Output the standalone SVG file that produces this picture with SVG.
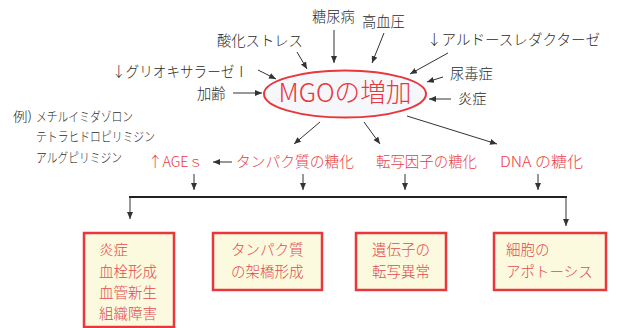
<svg xmlns="http://www.w3.org/2000/svg" width="617" height="328" viewBox="0 0 617 328">
<style>
text{font-weight:300}
.lbl{font-family:"Noto Sans CJK JP","Noto Sans",sans-serif;font-size:14.3px;fill:#2b2b2b}
.sm{font-family:"Noto Sans CJK JP","Noto Sans",sans-serif;font-size:13px;fill:#2b2b2b}
.red{font-family:"Noto Sans CJK JP","Noto Sans",sans-serif;font-size:14.5px;fill:#ec3b42}
.bt{font-family:"Noto Sans CJK JP","Noto Sans",sans-serif;font-size:14.5px;fill:#e24a4e}
.box{fill:#fbf9de;stroke:#e8383d;stroke-width:2.5}
.ar{stroke:#333;stroke-width:1;fill:none;marker-end:url(#ah)}
</style>
<defs>
<marker id="ah" markerUnits="userSpaceOnUse" markerWidth="8" markerHeight="7" refX="7" refY="3" orient="auto">
<path d="M0,0 L7,3 L0,6 z" fill="#333"/>
</marker>
</defs>
<g id="center">
<ellipse cx="345" cy="94" rx="81" ry="23.5" fill="#f6f7fb" stroke="#e8383d" stroke-width="2"/>
<text x="345" y="102" text-anchor="middle" font-family="'Noto Sans CJK JP','Noto Sans',sans-serif" font-size="26" fill="#e8383d" textLength="133" lengthAdjust="spacingAndGlyphs">MGOの増加</text>
</g>
<g id="causes">
<text class="lbl" x="312" y="22">糖尿病</text>
<text class="lbl" x="362" y="27">高血圧</text>
<text class="lbl" x="217" y="46">酸化ストレス</text>
<text class="lbl" x="112" y="77" textLength="136" lengthAdjust="spacingAndGlyphs">↓グリオキサラーゼⅠ</text>
<text class="lbl" x="197" y="99">加齢</text>
<text class="lbl" x="427" y="45" textLength="173" lengthAdjust="spacingAndGlyphs">↓アルドースレダクターゼ</text>
<text class="lbl" x="450" y="79">尿毒症</text>
<text class="lbl" x="458" y="104">炎症</text>
</g>
<g id="examples">
<text class="sm" x="13" y="121" textLength="19" lengthAdjust="spacingAndGlyphs">例)</text>
<text class="sm" x="36" y="121" textLength="97" lengthAdjust="spacingAndGlyphs">メチルイミダゾロン</text>
<text class="sm" x="36" y="141" textLength="119" lengthAdjust="spacingAndGlyphs">テトラヒドロピリミジン</text>
<text class="sm" x="36" y="162" textLength="86" lengthAdjust="spacingAndGlyphs">アルグピリミジン</text>
</g>
<g id="effects">
<text class="red" x="148" y="167" textLength="55" lengthAdjust="spacingAndGlyphs">↑AGEｓ</text>
<text class="red" x="236" y="167" textLength="118" lengthAdjust="spacingAndGlyphs">タンパク質の糖化</text>
<text class="red" x="376" y="167" textLength="101" lengthAdjust="spacingAndGlyphs">転写因子の糖化</text>
<text class="red" x="500" y="167" textLength="83" lengthAdjust="spacingAndGlyphs">DNA の糖化</text>
</g>
<g id="box1">
<rect class="box" x="84" y="233" width="90" height="94"/>
<text class="bt" x="99" y="255">炎症</text>
<text class="bt" x="99" y="277">血栓形成</text>
<text class="bt" x="99" y="298">血管新生</text>
<text class="bt" x="99" y="319">組織障害</text>
</g>
<g id="box2">
<rect class="box" x="213" y="233" width="109" height="57"/>
<text class="bt" x="231" y="255">タンパク質</text>
<text class="bt" x="231" y="277">の架橋形成</text>
</g>
<g id="box3">
<rect class="box" x="356" y="233" width="90" height="57"/>
<text class="bt" x="372" y="255">遺伝子の</text>
<text class="bt" x="372" y="277">転写異常</text>
</g>
<g id="box4">
<rect class="box" x="494" y="233" width="112" height="57"/>
<text class="bt" x="506" y="255">細胞の</text>
<text class="bt" x="506" y="277">アポトーシス</text>
</g>
<g id="connectors">
<line class="ar" x1="334" y1="30" x2="334" y2="63"/>
<line class="ar" x1="384" y1="33" x2="372" y2="63"/>
<line class="ar" x1="297" y1="52" x2="307" y2="69"/>
<line class="ar" x1="258" y1="70" x2="276" y2="79"/>
<line class="ar" x1="233" y1="93" x2="262" y2="93"/>
<line class="ar" x1="448" y1="53" x2="410" y2="74"/>
<line class="ar" x1="443" y1="77" x2="427" y2="82"/>
<line class="ar" x1="451" y1="99" x2="429" y2="99"/>
<line class="ar" x1="320" y1="122" x2="294" y2="144"/>
<line class="ar" x1="364" y1="122" x2="380" y2="144"/>
<line class="ar" x1="407" y1="116" x2="497" y2="144"/>
<line class="ar" x1="232" y1="162" x2="213" y2="162"/>
<line class="ar" x1="194" y1="174" x2="194" y2="190"/>
<line class="ar" x1="303" y1="174" x2="303" y2="190"/>
<line class="ar" x1="405" y1="174" x2="405" y2="190"/>
<line class="ar" x1="538" y1="174" x2="538" y2="190"/>
<line x1="129" y1="197" x2="567" y2="197" stroke="#222" stroke-width="2.2"/>
<line class="ar" x1="130" y1="197" x2="130" y2="219"/>
<line class="ar" x1="566" y1="197" x2="566" y2="226"/>
</g>
</svg>
